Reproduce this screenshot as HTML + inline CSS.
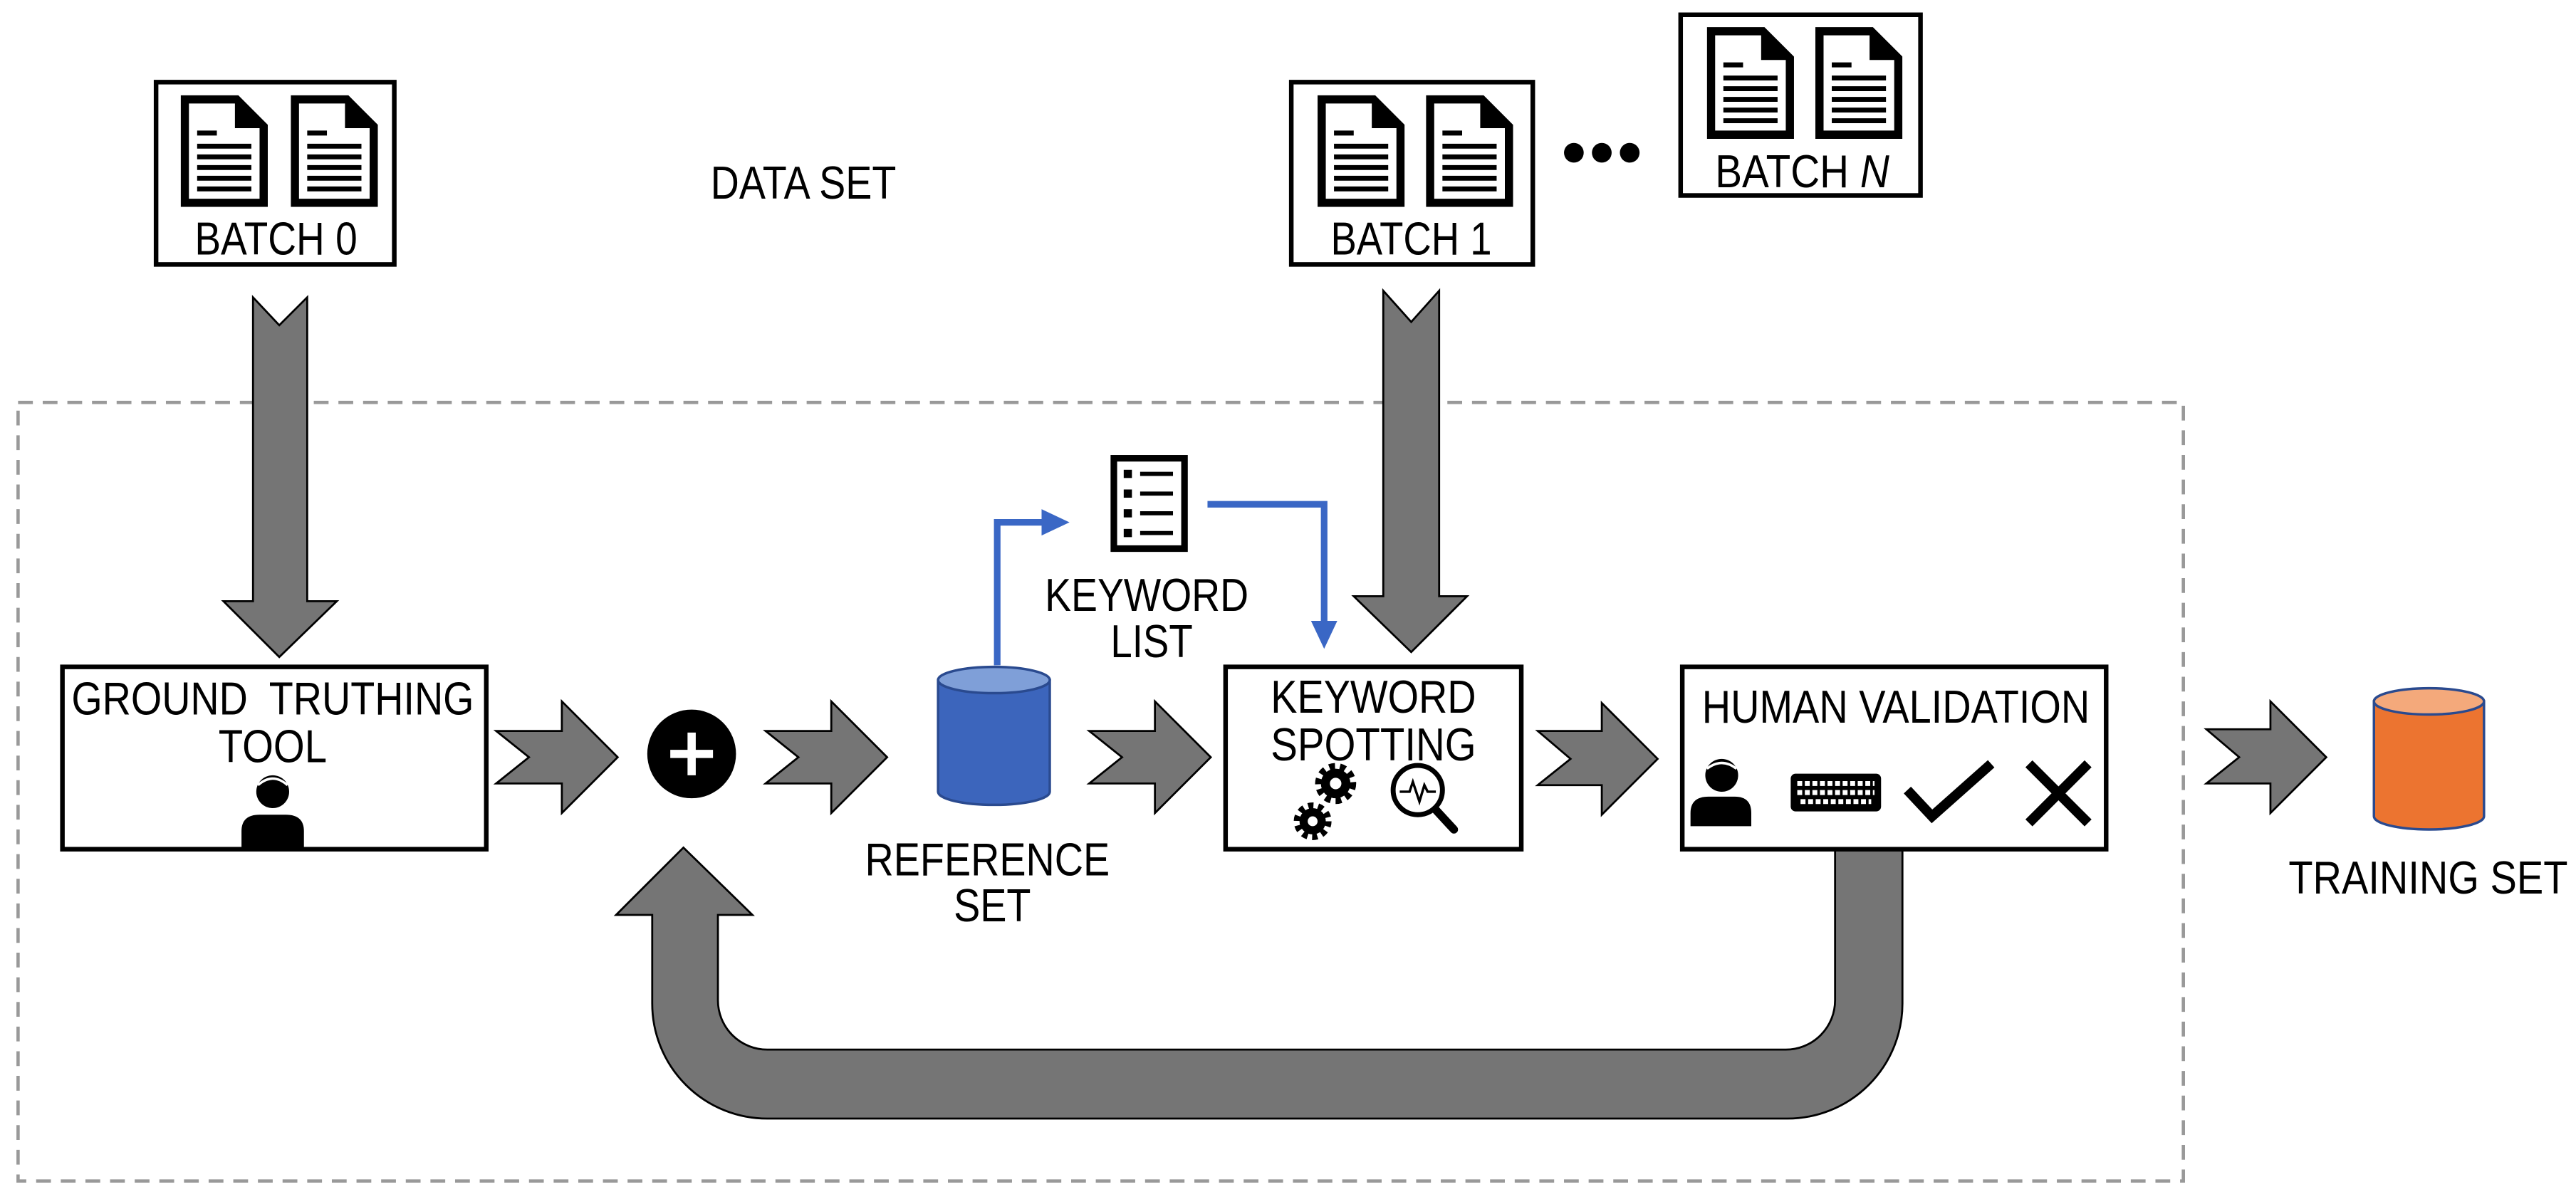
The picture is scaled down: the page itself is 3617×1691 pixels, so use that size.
<!DOCTYPE html>
<html><head><meta charset="utf-8"><style>html,body{margin:0;padding:0;background:#fff}svg{display:block}text{font-family:"Liberation Sans",sans-serif;font-size:28px;fill:#000}</style></head>
<body>
<svg width="3617" height="1691" viewBox="0 0 1568 733" preserveAspectRatio="none" xmlns="http://www.w3.org/2000/svg">
<defs>
<symbol id="doc" viewBox="0 0 53 68">
<path d="M2.5,2.5 H34 L50.5,19 V65.5 H2.5 Z" fill="#fff" stroke="#000" stroke-width="5"/>
<path d="M33,2 V20 H51 Z" fill="#000"/>
<line x1="10" y1="23" x2="22" y2="23" stroke="#000" stroke-width="3"/>
<g stroke="#000" stroke-width="3"><line x1="10" y1="31" x2="43" y2="31"/><line x1="10" y1="37.5" x2="43" y2="37.5"/><line x1="10" y1="44" x2="43" y2="44"/><line x1="10" y1="50.5" x2="43" y2="50.5"/><line x1="10" y1="57" x2="43" y2="57"/></g>
</symbol>
</defs>
<rect x="11" y="245" width="1318" height="474" fill="none" stroke="#999" stroke-width="2" stroke-dasharray="9,6"/>
<rect x="95" y="50" width="145" height="111" fill="#fff" stroke="#000" stroke-width="2.8"/>
<use href="#doc" x="110" y="58" width="53" height="68"/><use href="#doc" x="177" y="58" width="53" height="68"/>
<text x="168" y="155" text-anchor="middle" textLength="99" lengthAdjust="spacingAndGlyphs">BATCH 0</text>
<text x="489" y="121" text-anchor="middle" textLength="113" lengthAdjust="spacingAndGlyphs">DATA SET</text>
<rect x="786" y="50" width="147" height="111" fill="#fff" stroke="#000" stroke-width="2.8"/>
<use href="#doc" x="802" y="58" width="53" height="68"/><use href="#doc" x="868" y="58" width="53" height="68"/>
<text x="859" y="155" text-anchor="middle" textLength="98" lengthAdjust="spacingAndGlyphs">BATCH 1</text>
<circle cx="958" cy="93" r="6"/><circle cx="975" cy="93" r="6"/><circle cx="992" cy="93" r="6"/>
<rect x="1023" y="9" width="146" height="110" fill="#fff" stroke="#000" stroke-width="2.8"/>
<use href="#doc" x="1039" y="16" width="53" height="69"/><use href="#doc" x="1105" y="16" width="53" height="69"/>
<text x="1097" y="114" text-anchor="middle" textLength="106" lengthAdjust="spacingAndGlyphs">BATCH <tspan font-style="italic">N</tspan></text>
<g fill="#757575" stroke="#000" stroke-width="1.2">
<path d="M154,181 L170,198 L187,181 L187,366 L205,366 L170,400 L136,366 L154,366 Z"/>
<path d="M842,177 L859,196 L876,177 L876,363 L893,363 L859,397 L824,363 L842,363 Z"/>
<path d="M302,445 L342,445 L342,427 L376,461 L342,495 L342,477 L302,477 L322,461 Z"/>
<path d="M466,445 L506,445 L506,427 L540,461 L506,495 L506,477 L466,477 L486,461 Z"/>
<path d="M663,445 L703,445 L703,427 L737,461 L703,495 L703,477 L663,477 L683,461 Z"/>
<path d="M936,445 L975,445 L975,428 L1009,462 L975,496 L975,478 L936,478 L956,462 Z"/>
<path d="M1343,444 L1382,444 L1382,427 L1416,461 L1382,495 L1382,477 L1343,477 L1363,461 Z"/>
<path d="M1117,517 L1117,609 A30,30 0 0 1 1087,639 L467,639 A30,30 0 0 1 437,609 L437,557 L458,557 L416,516 L375,557 L397,557 L397,611 A70,70 0 0 0 467,681 L1088,681 A70,70 0 0 0 1158,611 L1158,517 Z"/>
</g>
<rect x="38" y="406" width="258" height="111" fill="#fff" stroke="#000" stroke-width="2.8"/>
<text x="166" y="435" text-anchor="middle" textLength="245" lengthAdjust="spacingAndGlyphs" xml:space="preserve">GROUND  TRUTHING</text>
<text x="166" y="464" text-anchor="middle" textLength="66" lengthAdjust="spacingAndGlyphs">TOOL</text>
<circle cx="166" cy="482" r="10"/><path d="M147,516 V506 Q147,496 158,496 H174 Q185,496 185,506 V516 Z"/>
<path d="M157,478 Q166,470 175,478" stroke="#fff" stroke-width="1.5" fill="none"/>
<circle cx="421" cy="459" r="27"/>
<path d="M421,446 V472 M408,459 H434" stroke="#fff" stroke-width="5"/>
<path d="M571,414 V482 A34,8 0 0 0 639,482 V414 Z" fill="#3c65bc" stroke="#2a4a8f" stroke-width="1.5"/>
<ellipse cx="605" cy="414" rx="34" ry="8" fill="#7f9fd8" stroke="#2a4a8f" stroke-width="1.5"/>
<text x="601" y="533" text-anchor="middle" textLength="149" lengthAdjust="spacingAndGlyphs">REFERENCE</text>
<text x="604" y="561" text-anchor="middle" textLength="47" lengthAdjust="spacingAndGlyphs">SET</text>
<path d="M607,405 V318 H636" fill="none" stroke="#3a67c5" stroke-width="4"/>
<path d="M634,310 L651,318 L634,326 Z" fill="#3a67c5"/>
<path d="M735,307 H806 V380" fill="none" stroke="#3a67c5" stroke-width="4"/>
<path d="M798,378 L806,395 L814,378 Z" fill="#3a67c5"/>
<rect x="678" y="279" width="43" height="55" fill="#fff" stroke="#000" stroke-width="4"/>
<g fill="#000"><rect x="684" y="286" width="5" height="5"/><rect x="684" y="298" width="5" height="5"/><rect x="684" y="310" width="5" height="5"/><rect x="684" y="322" width="5" height="5"/></g>
<g stroke="#000" stroke-width="2.5"><line x1="694" y1="288.5" x2="714" y2="288.5"/><line x1="694" y1="300.5" x2="714" y2="300.5"/><line x1="694" y1="312.5" x2="714" y2="312.5"/><line x1="694" y1="324.5" x2="714" y2="324.5"/></g>
<text x="698" y="372" text-anchor="middle" textLength="124" lengthAdjust="spacingAndGlyphs">KEYWORD</text>
<text x="701" y="400" text-anchor="middle" textLength="50" lengthAdjust="spacingAndGlyphs">LIST</text>
<rect x="746" y="406" width="180" height="111" fill="#fff" stroke="#000" stroke-width="2.8"/>
<text x="836" y="434" text-anchor="middle" textLength="125" lengthAdjust="spacingAndGlyphs">KEYWORD</text>
<text x="836" y="463" text-anchor="middle" textLength="125" lengthAdjust="spacingAndGlyphs">SPOTTING</text>
<g>
<circle cx="813" cy="477" r="9"/><circle cx="813" cy="477" r="10.5" fill="none" stroke="#000" stroke-width="4" stroke-dasharray="3.5,3"/><circle cx="813" cy="477" r="3.5" fill="#fff"/>
<circle cx="799" cy="500" r="8"/><circle cx="799" cy="500" r="9.5" fill="none" stroke="#000" stroke-width="4" stroke-dasharray="3.2,2.8"/><circle cx="799" cy="500" r="3" fill="#fff"/>
</g>
<line x1="873" y1="492" x2="885" y2="505" stroke="#000" stroke-width="5" stroke-linecap="round"/>
<circle cx="863" cy="481" r="15" fill="#fff" stroke="#000" stroke-width="3"/>
<polyline points="852,482 858,482 860,476 864,488 867,478 869,482 874,482" fill="none" stroke="#000" stroke-width="1.5"/>
<rect x="1024" y="406" width="258" height="111" fill="#fff" stroke="#000" stroke-width="2.8"/>
<text x="1154" y="440" text-anchor="middle" textLength="236" lengthAdjust="spacingAndGlyphs">HUMAN VALIDATION</text>
<circle cx="1048" cy="472" r="10"/><path d="M1029,503 V495 Q1029,485 1040,485 H1056 Q1066,485 1066,495 V503 Z"/>
<path d="M1039,468 Q1048,461 1057,468" stroke="#fff" stroke-width="1.5" fill="none"/>
<rect x="1090" y="471" width="55" height="23" rx="3"/>
<g stroke="#fff" stroke-width="3"><line x1="1094" y1="477" x2="1141" y2="477" stroke-dasharray="3,1.6"/><line x1="1094" y1="482.5" x2="1141" y2="482.5" stroke-dasharray="3,1.6"/><line x1="1096" y1="488" x2="1139" y2="488" stroke-dasharray="3,1.6"/></g>
<polyline points="1161,481 1176,497 1212,465" fill="none" stroke="#000" stroke-width="6"/>
<path d="M1235,465 L1271,501 M1271,465 L1235,501" stroke="#000" stroke-width="6"/>
<path d="M1445,427 V497 A33.5,8 0 0 0 1512,497 V427 Z" fill="#ec7430" stroke="#2a4a8f" stroke-width="1.5"/>
<ellipse cx="1478.5" cy="427" rx="33.5" ry="8" fill="#f4a97b" stroke="#2a4a8f" stroke-width="1.5"/>
<text x="1478" y="544" text-anchor="middle" textLength="170" lengthAdjust="spacingAndGlyphs">TRAINING SET</text>
</svg>
</body></html>
